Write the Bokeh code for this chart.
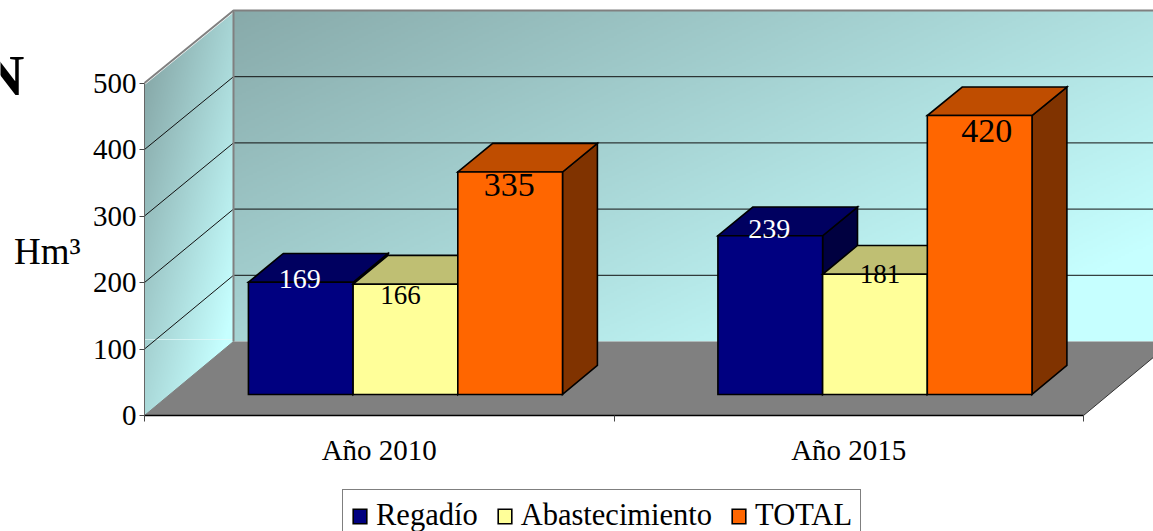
from bokeh.plotting import figure
from bokeh.models import Range1d, FixedTicker, Label, Legend, LegendItem, ColumnDataSource
from bokeh.core.properties import value
from bokeh.embed import file_html
from bokeh.resources import INLINE
import numpy as np

# ---- data ----
categories = ["Año 2010", "Año 2015"]
series_names = ["Regadío", "Abastecimiento", "TOTAL"]
regadio = [169, 239]
abastecimiento = [166, 181]
total = [335, 420]
value_ticks = [0, 100, 200, 300, 400, 500]

# ---- styles ----
FONT = "Liberation Serif"
front_colors = ["#000080", "#FFFF99", "#FF6600"]
top_colors = ["#000060", "#BFBF73", "#BF4D00"]
side_colors = ["#000040", "#808066", "#803300"]
label_colors = ["white", "black", "black"]
label_sizes = [["28px", "28px"], ["27px", "27px"], ["34px", "34px"]]
label_dx = [[-1, -1], [-5, 5], [-1, 7]]      # px, relative to the bar centre
label_dy = [[-3, -7], [11, 0], [13, 15]]     # px, relative to the bar top

# ---- layout: the front plane of the 3D box carries the scales ----
W, H = 1153, 531
AX_LEFT, AX_BOTTOM = 144, 415
CAT_PX = 469.5
VAL_PX = 0.665
DX = 89 / CAT_PX            # depth of the box in category units
DY = 74 / VAL_PX            # depth of the box in value units
SHRINK = 0.0045
D0, D1 = 0.284, 0.676       # depth span of the bars
BW = 104.7 / CAT_PX         # bar width
SHIFT = 0.002
X0 = 0.5
XMIN, XMAX = X0 - AX_LEFT / CAT_PX, X0 + (W - AX_LEFT) / CAT_PX
YMIN, YMAX = (AX_BOTTOM - H) / VAL_PX, AX_BOTTOM / VAL_PX
AXMAX = value_ticks[-1]
XEND = X0 + len(categories)


def dep_x(c, d):
    return c + d * DX


def dep_y(v, d):
    return v * (1 - SHRINK * d) + d * DY


p = figure(width=W, height=H, output_backend="svg", toolbar_location=None,
           x_range=Range1d(XMIN, XMAX), y_range=Range1d(YMIN, YMAX),
           min_border_left=0, min_border_right=0, min_border_top=0, min_border_bottom=0,
           outline_line_color=None, background_fill_color="white", border_fill_color="white")
p.grid.visible = False

# ---- walls ----
C0 = np.array([0x88, 0xAA, 0xAA], float)
C1 = np.array([0xC6, 0xFF, 0xFF], float)


def gradient(t):
    t = np.clip(t, 0, 1)[..., None]
    rgb = C0 + (C1 - C0) * t
    a = np.full(t.shape, 255.0)
    return np.concatenate([rgb, a], axis=2).astype(np.uint8).view(np.uint32).reshape(t.shape[:2])


# back wall
ny, nx = 170, 480
yy, xx = np.mgrid[0:1:ny * 1j, 0:1:nx * 1j]      # y=0 bottom, y=1 top
p.image_rgba(image=[gradient(0.65 * xx + 0.5 * (1 - yy))],
             x=X0 + DX, y=DY, dw=XMAX - X0 - DX, dh=dep_y(AXMAX, 1) - DY)
# side wall (rectangle; the triangle above it is covered, the one below lies under the floor)
ny, nx = 210, 90
yy, xx = np.mgrid[0:1:ny * 1j, 0:1:nx * 1j]
p.image_rgba(image=[gradient(0.62 * xx + 0.7 * (0.82 - yy))],
             x=X0, y=0, dw=DX, dh=dep_y(AXMAX, 1))
p.patch([X0, X0 + DX, X0], [AXMAX, dep_y(AXMAX, 1), dep_y(AXMAX, 1)],
        fill_color="white", line_color="white", line_width=3)
p.line([X0, X0 + DX], [DY + 3, DY + 3], line_color="#E6FAFA", line_width=1, line_alpha=0.7)

# floor
p.patch([X0, X0 + DX, XEND + DX, XEND], [0, DY, DY, 0], fill_color="#808080", line_color=None)
p.line([XEND, XEND + DX], [0, DY], line_color="#333333", line_width=1)

# gridlines on the walls
for v in value_ticks[1:-1]:
    p.line([X0, X0 + DX, XMAX], [v, dep_y(v, 1), dep_y(v, 1)], line_color="#111111", line_width=1)
p.line([X0, X0 + DX, XMAX], [AXMAX, dep_y(AXMAX, 1), dep_y(AXMAX, 1)], line_color="#808080", line_width=2)
p.line([X0 + DX, X0 + DX], [DY, dep_y(AXMAX, 1)], line_color="#808080", line_width=2)
p.line([X0, X0 + DX], [0, DY], line_color="#808080", line_width=1)

# ---- bars ----
cats = [1, 2]
all_values = [regadio, abastecimiento, total]
fronts = []
OUT = dict(line_color="black", line_width=1.6, line_join="miter")
for s, vals in enumerate(all_values):
    xl = [c - 1.5 * BW + s * BW + SHIFT for c in cats]
    side_x, side_y, top_x, top_y = [], [], [], []
    for x, v in zip(xl, vals):
        xr = x + BW
        side_x.append([dep_x(xr, D0), dep_x(xr, D1), dep_x(xr, D1), dep_x(xr, D0)])
        side_y.append([dep_y(0, D0), dep_y(0, D1), dep_y(v, D1), dep_y(v, D0)])
        top_x.append([dep_x(x, D0), dep_x(xr, D0), dep_x(xr, D1), dep_x(x, D1)])
        top_y.append([dep_y(v, D0), dep_y(v, D0), dep_y(v, D1), dep_y(v, D1)])
    p.patches(side_x, side_y, fill_color=side_colors[s], **OUT)
    p.patches(top_x, top_y, fill_color=top_colors[s], **OUT)
    fronts.append(p.quad(left=[dep_x(x, D0) for x in xl], right=[dep_x(x + BW, D0) for x in xl],
                         bottom=[dep_y(0, D0)] * 2, top=[dep_y(v, D0) for v in vals],
                         fill_color=front_colors[s], **OUT))

# value labels
for s, vals in enumerate(all_values):
    xl = [c - 1.5 * BW + s * BW + SHIFT for c in cats]
    src = ColumnDataSource(dict(
        x=[dep_x(x + BW / 2, D0) for x in xl],
        y=[dep_y(v, D0) for v in vals],
        t=[str(v) for v in vals],
        dx=label_dx[s], dy=label_dy[s], fs=label_sizes[s]))
    p.text(x="x", y="y", text="t", source=src, x_offset="dx", y_offset="dy", text_font_size="fs",
           text_font=value(FONT), text_color=label_colors[s], text_align="center", text_baseline="middle")

# ---- axes, fixed on the front plane of the box ----
ya = p.yaxis[0]
ya.fixed_location = X0
ya.ticker = FixedTicker(ticks=value_ticks)
ya.bounds = (0, AXMAX)
ya.axis_line_color = "#666666"
ya.axis_line_width = 1
ya.major_tick_line_color = "#444444"
ya.major_tick_in = 0
ya.major_tick_out = 5
ya.minor_tick_line_color = None
ya.major_label_standoff = 3
ya.major_label_text_font = FONT
ya.major_label_text_font_size = "29px"
ya.major_label_text_color = "black"

xa = p.xaxis[0]
xa.fixed_location = 0
xa.ticker = FixedTicker(ticks=cats, minor_ticks=[0.5, 1.5, 2.5])
xa.bounds = (0.5, 2.5)
xa.major_label_overrides = {c: n for c, n in zip(cats, categories)}
xa.axis_line_color = "black"
xa.axis_line_width = 1.5
xa.major_tick_line_color = None
xa.major_tick_in = 0
xa.major_tick_out = 0
xa.minor_tick_line_color = "#444444"
xa.minor_tick_in = 0
xa.minor_tick_out = 6
xa.major_label_standoff = 12
xa.major_label_text_font = FONT
xa.major_label_text_font_size = "29px"
xa.major_label_text_color = "black"

# ---- side texts ----
p.add_layout(Label(x=X0 - (AX_LEFT - 80) / CAT_PX, y=(AX_BOTTOM - 251) / VAL_PX, text="Hm³", text_font=FONT,
                   text_font_size="37px", text_align="right", text_baseline="alphabetic", text_color="black"))
p.add_layout(Label(x=X0 - (AX_LEFT - 24) / CAT_PX, y=(AX_BOTTOM - 75) / VAL_PX, text="N", text_font=FONT,
                   text_font_size="58px", text_font_style="bold", text_align="right",
                   text_baseline="alphabetic", text_color="black"))

# ---- legend ----
legend = Legend(items=[LegendItem(label=n, renderers=[r]) for n, r in zip(series_names, fronts)],
                orientation="horizontal", location=(342, -11), margin=0, padding=8, spacing=18,
                glyph_width=17, glyph_height=18, label_standoff=8,
                label_text_font=FONT, label_text_font_size="30.5px", label_text_color="black",
                border_line_color="black", border_line_width=1, background_fill_color="white",
                background_fill_alpha=1)
p.add_layout(legend)

open("out.html", "w").write(file_html(p, INLINE))
